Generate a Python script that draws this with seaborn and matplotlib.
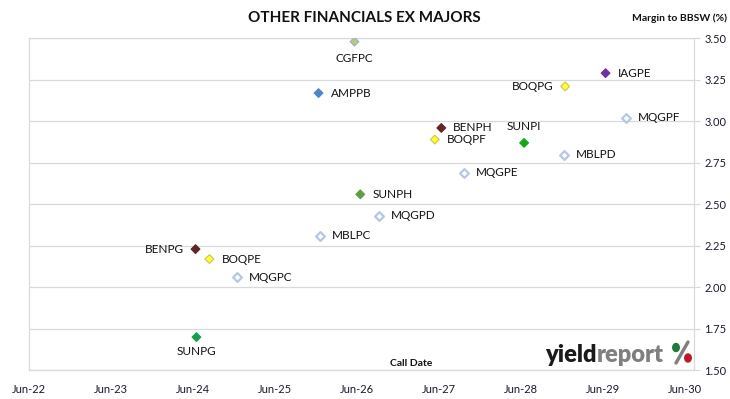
import pandas as pd
import matplotlib.pyplot as plt
import matplotlib.dates as mdates
from matplotlib.patches import Ellipse
from matplotlib.lines import Line2D
import seaborn as sns

# bond codes, call dates and margins
names = ["CGFPC", "AMPPB", "IAGPE", "BOQPG", "MQGPF", "BENPH", "BOQPF", "SUNPI", "MBLPD",
         "MQGPE", "SUNPH", "MQGPD", "MBLPC", "BENPG", "BOQPE", "MQGPC", "SUNPG"]
call_dates = ["2026-06-19", "2026-01-10", "2029-07-12", "2029-01-13", "2029-10-11", "2027-07-11",
              "2027-06-12", "2028-07-14", "2029-01-06", "2027-10-18", "2026-07-15", "2026-10-07",
              "2026-01-17", "2024-07-11", "2024-09-11", "2025-01-13", "2024-07-15"]
margins = [3.48, 3.17, 3.29, 3.21, 3.02, 2.96, 2.89, 2.87, 2.80,
           2.69, 2.56, 2.43, 2.31, 2.23, 2.17, 2.06, 1.70]
y_ticks = [1.50, 1.75, 2.00, 2.25, 2.50, 2.75, 3.00, 3.25, 3.50]
x_ticks = ["2022-06-30", "2023-06-30", "2024-06-30", "2025-06-30", "2026-06-30",
           "2027-06-30", "2028-06-30", "2029-06-30", "2030-06-30"]

df = pd.DataFrame({"name": names, "date": pd.to_datetime(call_dates), "margin": margins})

hollow = ["MQGPF", "MBLPD", "MQGPE", "MQGPD", "MBLPC", "MQGPC"]
colors = {"CGFPC": "#b7c97c", "AMPPB": "#4f86c6", "IAGPE": "#7030a0", "BOQPG": "#ffff33",
          "BENPH": "#632523", "BOQPF": "#ffff33", "SUNPI": "#12a812", "SUNPH": "#5f9e3f",
          "BENPG": "#632523", "BOQPE": "#ffff33", "SUNPG": "#12a050"}
edges = {"CGFPC": "#9bb0c8", "AMPPB": "#4f86c6", "IAGPE": "#7030a0", "BOQPG": "#c8c84a",
         "BENPH": "#632523", "BOQPF": "#c8c84a", "SUNPI": "#12a812", "SUNPH": "#5f9e3f",
         "BENPG": "#632523", "BOQPE": "#c8c84a", "SUNPG": "#12a050"}

# label placement: r = right, l = left, b = below, t = above
place = {"CGFPC": "b", "BOQPG": "l", "BENPG": "l", "SUNPI": "t", "SUNPG": "b"}

sns.set_style("white")
plt.rcParams["font.family"] = ["Lato", "DejaVu Sans"]

fig = plt.figure(figsize=(7.3, 3.99), dpi=100)
ax = fig.add_axes([29 / 730, 28.7 / 399, 665 / 730, 332 / 399])

filled = df[~df["name"].isin(hollow)]
sns.scatterplot(data=filled, x="date", y="margin", hue="name", palette=colors, marker="D",
                s=20, linewidth=0.8, edgecolor=[edges[n] for n in filled["name"]],
                legend=False, ax=ax, zorder=3)
empty = df[df["name"].isin(hollow)]
sns.scatterplot(data=empty, x="date", y="margin", marker="D", s=20, linewidth=1.6,
                facecolor="white", edgecolor="#b4c7e7", legend=False, ax=ax, zorder=3)

for _, row in df.iterrows():
    p = place.get(row["name"], "r")
    if p == "r":
        off, ha, va = (12, 0), "left", "center"
    elif p == "l":
        off, ha, va = (-12, 0), "right", "center"
    elif p == "b":
        off, ha, va = (0, -17 if row["name"] == "CGFPC" else -14), "center", "center"
    else:
        off, ha, va = (0, 16), "center", "center"
    ax.annotate(row["name"], (row["date"], row["margin"]), xytext=off,
                textcoords="offset pixels", ha=ha, va=va, fontsize=8.5, color="#111111")

ax.set_xlim(pd.Timestamp("2022-06-30"), pd.Timestamp("2030-08-10"))
ax.set_ylim(1.5, 3.5)
ax.set_xticks(pd.to_datetime(x_ticks))
ax.xaxis.set_major_formatter(mdates.DateFormatter("%b-%y"))
ax.set_yticks(y_ticks)
ax.set_yticklabels([f"{v:.2f}" for v in y_ticks])
ax.yaxis.tick_right()
ax.tick_params(axis="y", direction="out", length=4.5, color="#d9d9d9", pad=3,
               labelsize=8, labelcolor="#1a1a2e")
ax.tick_params(axis="x", length=0, pad=10, labelsize=8, labelcolor="#1a1a2e")
ax.grid(axis="y", color="#d9d9d9", lw=0.9)
ax.set_axisbelow(True)
for s in ax.spines.values():
    s.set_color("#d9d9d9")
    s.set_linewidth(0.9)
ax.set_xlabel("")
ax.set_ylabel("")

fig.text(364 / 730, 1 - 18 / 399, "OTHER FINANCIALS EX MAJORS", ha="center", va="center",
         fontsize=11, fontweight="bold", color="#111111")
fig.text(727 / 730, 1 - 18 / 399, "Margin to BBSW (%)", ha="right", va="center",
         fontsize=7.5, fontweight="bold", color="#111111")
fig.text(411.5 / 730, 1 - 363 / 399, "Call Date", ha="center", va="center",
         fontsize=7.5, fontweight="bold", color="#111111")

# yieldreport logo
t1 = fig.text(545 / 730, 1 - 362 / 399, "yield", ha="left", va="baseline", fontsize=17,
              fontweight="heavy", color="#1a1a1a")
fig.canvas.draw()
bb = t1.get_window_extent()
fig.text(bb.x1 / 730, 1 - 362 / 399, "report", ha="left", va="baseline", fontsize=17,
         fontweight="heavy", color="#7f7f7f")
fig.add_artist(Line2D([688 / 730, 676 / 730], [1 - 342 / 399, 1 - 363 / 399],
                      color="#7f7f7f", lw=2.4, transform=fig.transFigure))
fig.add_artist(Ellipse((676 / 730, 1 - 347.5 / 399), 6.5 / 730, 8 / 399,
                       color="#1d7a3a", transform=fig.transFigure))
fig.add_artist(Ellipse((688 / 730, 1 - 358 / 399), 6.5 / 730, 8 / 399,
                       color="#c0182a", transform=fig.transFigure))

fig.savefig("out.png", dpi=100)
plt.close()
